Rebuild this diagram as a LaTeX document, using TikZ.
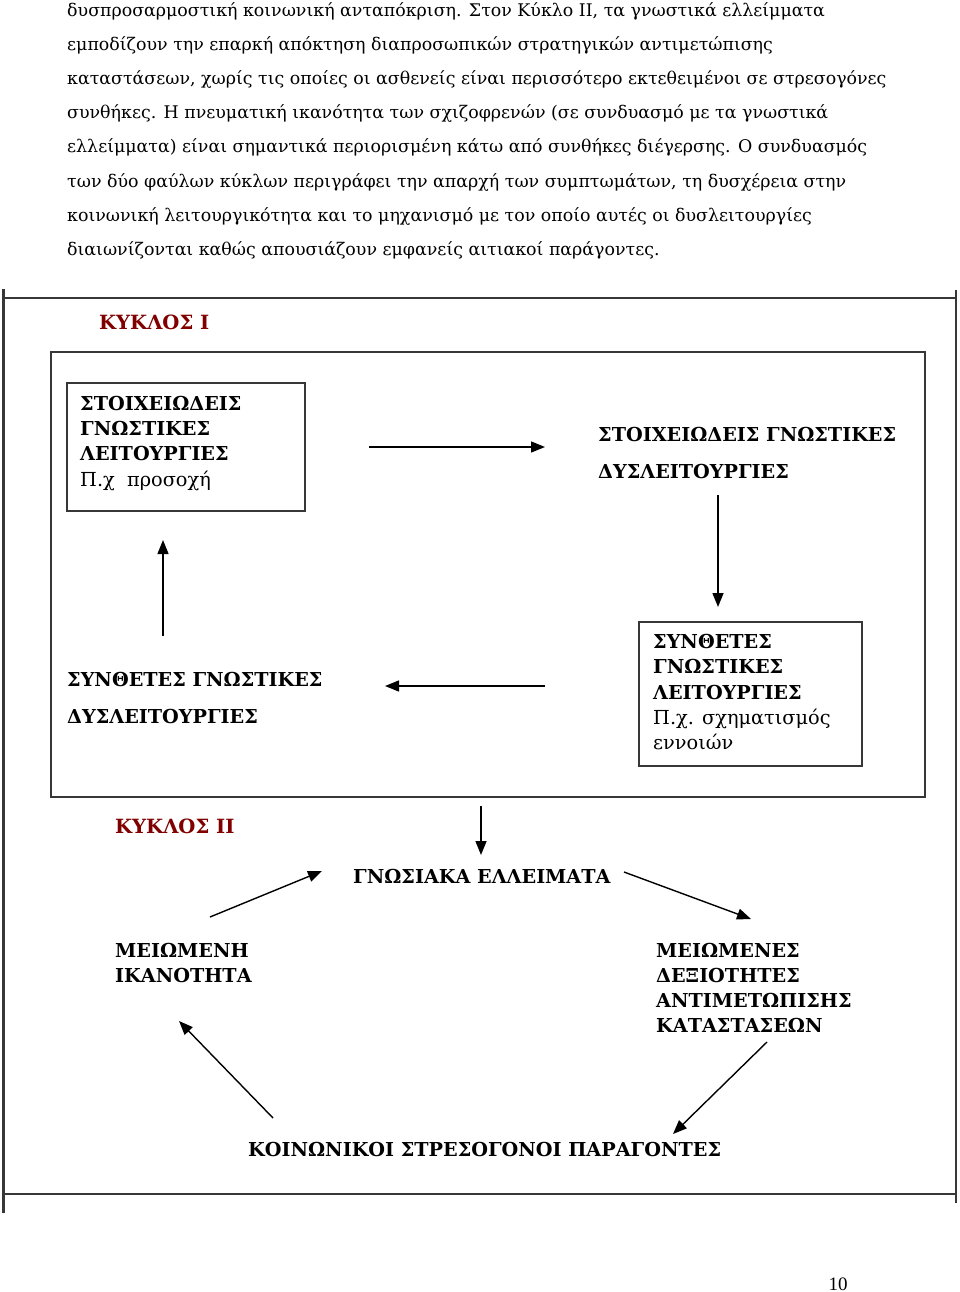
\documentclass[tikz,border=0pt]{standalone}
\usepackage{fontspec}
\setmainfont{DejaVu Serif}
\newfontfamily\pnfont{Liberation Serif}
\usetikzlibrary{arrows.meta}
\definecolor{kred}{RGB}{128,0,0}
\definecolor{frame}{RGB}{55,55,55}
\tikzset{
  body/.style={anchor=base west,inner sep=0pt,font=\fontsize{17.4}{20}\selectfont},
  bt/.style={anchor=base west,inner sep=0pt,font=\fontsize{19.2}{22}\selectfont\bfseries},
  nt/.style={anchor=base west,inner sep=0pt,font=\fontsize{19.3}{22}\selectfont},
  kt/.style={anchor=base west,inner sep=0pt,font=\fontsize{19.6}{22}\selectfont\bfseries,text=kred},
  fr/.style={draw=frame,line width=2.2pt},
  bx/.style={draw=frame,line width=1.7pt},
  arr/.style={line width=1.4pt,-{Triangle[length=14pt,width=11pt]}}
}
\begin{document}
\begin{tikzpicture}[x=1pt,y=-1pt]
\useasboundingbox (0,0) rectangle (960,1292);
% body text
\node[body] (l1) at (67,17) {δυσπροσαρμοστική κοινωνική ανταπόκριση. Στον Κύκλο ΙΙ, τα γνωστικά ελλείμματα};
\node[body] (l2) at (67,51) {εμποδίζουν την επαρκή απόκτηση διαπροσωπικών στρατηγικών αντιμετώπισης};
\node[body] (l3) at (67,85) {καταστάσεων, χωρίς τις οποίες οι ασθενείς είναι περισσότερο εκτεθειμένοι σε στρεσογόνες};
\node[body] (l4) at (67,119) {συνθήκες. Η πνευματική ικανότητα των σχιζοφρενών (σε συνδυασμό με τα γνωστικά};
\node[body] (l5) at (67,153) {ελλείμματα) είναι σημαντικά περιορισμένη κάτω από συνθήκες διέγερσης. Ο συνδυασμός};
\node[body] (l6) at (67,187) {των δύο φαύλων κύκλων περιγράφει την απαρχή των συμπτωμάτων, τη δυσχέρεια στην};
\node[body] (l7) at (67,221) {κοινωνική λειτουργικότητα και το μηχανισμό με τον οποίο αυτές οι δυσλειτουργίες};
\node[body] (l8) at (67,255) {διαιωνίζονται καθώς απουσιάζουν εμφανείς αιτιακοί παράγοντες.};
% outer frame
\draw[fr] (3.5,289) -- (3.5,1213);
\draw[fr] (956,290) -- (956,1203);
\draw[fr] (3,298) -- (956,298);
\draw[fr] (3,1194) -- (956,1194);
% inner frame
\draw[fr] (51,352) rectangle (925,797);
\node[kt] (k1) at (99,329.5) {ΚΥΚΛΟΣ Ι};
% box 1
\draw[bx] (67,383) rectangle (305,511);
\node[bt] (b1a) at (80,410) {ΣΤΟΙΧΕΙΩΔΕΙΣ};
\node[bt] (b1b) at (80,435) {ΓΝΩΣΤΙΚΕΣ};
\node[bt] (b1c) at (80,460) {ΛΕΙΤΟΥΡΓΙΕΣ};
\node[nt] (b1d) at (80,486) {Π.χ\ \ προσοχή};
% top right text
\node[bt] (d1a) at (598,441) {ΣΤΟΙΧΕΙΩΔΕΙΣ ΓΝΩΣΤΙΚΕΣ};
\node[bt] (d1b) at (598,478) {ΔΥΣΛΕΙΤΟΥΡΓΙΕΣ};
% box 2
\draw[bx] (639,622) rectangle (862,766);
\node[bt] (b2a) at (653,648) {ΣΥΝΘΕΤΕΣ};
\node[bt] (b2b) at (653,673) {ΓΝΩΣΤΙΚΕΣ};
\node[bt] (b2c) at (653,699) {ΛΕΙΤΟΥΡΓΙΕΣ};
\node[nt] (b2d) at (653,724) {Π.χ. σχηματισμός};
\node[nt] (b2e) at (653,749) {εννοιών};
% bottom left text
\node[bt] (d2a) at (67,686) {ΣΥΝΘΕΤΕΣ ΓΝΩΣΤΙΚΕΣ};
\node[bt] (d2b) at (67,723) {ΔΥΣΛΕΙΤΟΥΡΓΙΕΣ};
% cycle I arrows
\coordinate (a1s) at (369,447); \coordinate (a1e) at (545,447);
\coordinate (a2s) at (718,495); \coordinate (a2e) at (718,607);
\coordinate (a3s) at (545,686); \coordinate (a3e) at (385,686);
\coordinate (a4s) at (163,636); \coordinate (a4e) at (163,540);
\draw[arr] (a1s) -- (a1e);
\draw[arr] (a2s) -- (a2e);
\draw[arr] (a3s) -- (a3e);
\draw[arr] (a4s) -- (a4e);
% cycle II
\node[kt] (k2) at (115,833) {ΚΥΚΛΟΣ ΙΙ};
\coordinate (a5s) at (481,806); \coordinate (a5e) at (481,855);
\draw[arr] (a5s) -- (a5e);
\node[bt] (g1) at (353,883) {ΓΝΩΣΙΑΚΑ ΕΛΛΕΙΜΑΤΑ};
\node[bt] (m1a) at (115,957) {ΜΕΙΩΜΕΝΗ};
\node[bt] (m1b) at (115,982) {ΙΚΑΝΟΤΗΤΑ};
\node[bt] (m2a) at (656,957) {ΜΕΙΩΜΕΝΕΣ};
\node[bt] (m2b) at (656,982) {ΔΕΞΙΟΤΗΤΕΣ};
\node[bt] (m2c) at (656,1007) {ΑΝΤΙΜΕΤΩΠΙΣΗΣ};
\node[bt] (m2d) at (656,1032) {ΚΑΤΑΣΤΑΣΕΩΝ};
\node[bt] (s1) at (248,1156) {ΚΟΙΝΩΝΙΚΟΙ ΣΤΡΕΣΟΓΟΝΟΙ ΠΑΡΑΓΟΝΤΕΣ};
\coordinate (a6s) at (210,917); \coordinate (a6e) at (322,871);
\coordinate (a7s) at (624,872); \coordinate (a7e) at (751,919);
\coordinate (a8s) at (767,1042); \coordinate (a8e) at (673,1134);
\coordinate (a9s) at (273,1118); \coordinate (a9e) at (179,1021);
\draw[arr] (a6s) -- (a6e);
\draw[arr] (a7s) -- (a7e);
\draw[arr] (a8s) -- (a8e);
\draw[arr] (a9s) -- (a9e);
% page number
\node[anchor=base,inner sep=0pt,font=\pnfont\fontsize{19}{22}\selectfont] (pn) at (838,1290) {10};
\end{tikzpicture}
\end{document}
